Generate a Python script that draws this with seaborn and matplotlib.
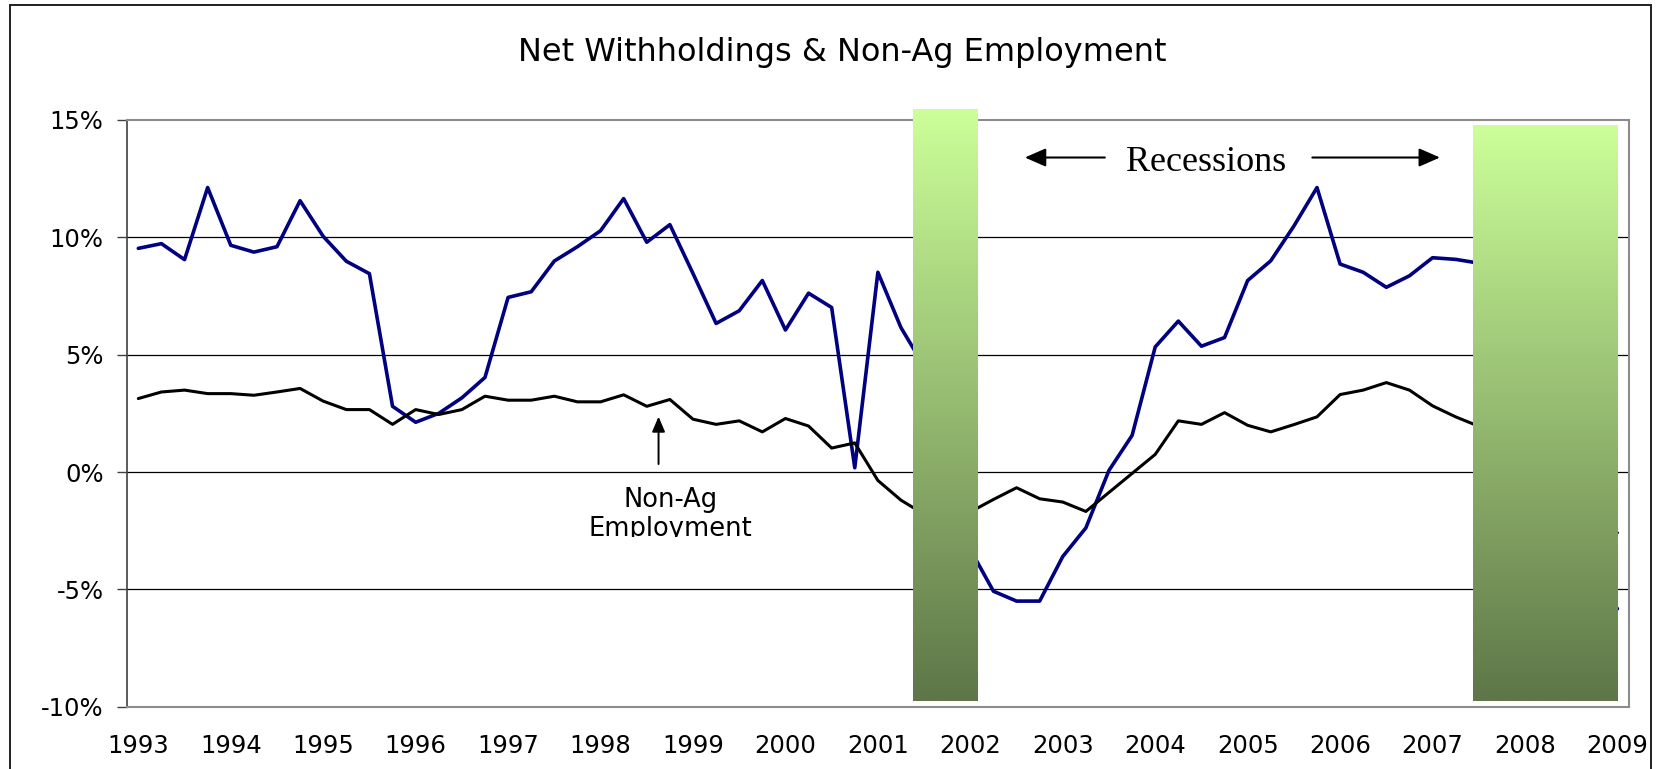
import numpy as np
import matplotlib
matplotlib.use('Agg')
import matplotlib.pyplot as plt
import seaborn as sns
from matplotlib.lines import Line2D
from matplotlib.transforms import Bbox, TransformedBbox

# quarterly series, 1993 Q1 .. 2009 Q1 (values in %)
years = ['1993', '1994', '1995', '1996', '1997', '1998', '1999', '2000', '2001',
         '2002', '2003', '2004', '2005', '2006', '2007', '2008', '2009']

withholdings = [9.53, 9.73, 9.05, 12.12, 9.66, 9.37, 9.60, 11.56,
                10.04, 8.98, 8.45, 2.80, 2.12, 2.50, 3.16, 4.03,
                7.44, 7.68, 8.99, 9.60, 10.28, 11.65, 9.79, 10.54,
                8.46, 6.33, 6.87, 8.16, 6.05, 7.62, 7.01, 0.18,
                8.51, 6.15, 4.50, 0.00, -3.30, -5.08, -5.50, -5.50,
                -3.60, -2.38, 0.07, 1.56, 5.33, 6.43, 5.36, 5.73,
                8.16, 9.00, 10.48, 12.12, 8.86, 8.51, 7.87, 8.36,
                9.13, 9.06, 8.90, 7.50, 5.00, 1.50, -2.00, -4.50,
                -5.83]

non_ag = [3.13, 3.41, 3.49, 3.34, 3.34, 3.27, 3.41, 3.56,
          3.02, 2.66, 2.66, 2.03, 2.66, 2.45, 2.66, 3.23,
          3.06, 3.06, 3.23, 2.99, 2.99, 3.29, 2.80, 3.09,
          2.25, 2.03, 2.18, 1.71, 2.28, 1.96, 1.02, 1.24,
          -0.36, -1.20, -1.80, -2.00, -1.70, -1.17, -0.67, -1.14,
          -1.28, -1.68, -0.87, -0.06, 0.75, 2.18, 2.03, 2.53,
          1.99, 1.71, 2.02, 2.35, 3.30, 3.49, 3.81, 3.49,
          2.82, 2.35, 1.95, 1.50, 0.80, -0.30, -1.30, -2.10,
          -2.59]

# recession bars (in quarter index units)
rec_start = [33.5, 57.75]
rec_end = [36.27, 64.0]
rec_top = [15.44, 14.75]
rec_bottom = -9.77

sns.set_theme(style='white')
plt.rcParams['font.family'] = ['DejaVu Sans']

quarter = np.arange(len(withholdings))

fig = plt.figure(figsize=(16.57, 7.69), dpi=100)
ax = fig.add_axes([0.0765, 0.0810, 0.9066, 0.7630])

for y in [-5, 0, 5, 10]:
    ax.axhline(y, color='black', lw=0.9, zorder=1)

sns.lineplot(x=quarter, y=withholdings, color='#000080', lw=2.6, ax=ax, zorder=3)
sns.lineplot(x=quarter, y=non_ag, color='black', lw=2.2, ax=ax, zorder=3)

# green gradient bars for recessions
top_c = np.array([204, 255, 153]) / 255
bot_c = np.array([94, 118, 72]) / 255
t = np.linspace(0, 1, 256)[:, None]
grad = (top_c * (1 - t) + bot_c * t)[:, None, :]
for x0, x1, y1 in zip(rec_start, rec_end, rec_top):
    ax.imshow(grad, extent=(x0, x1, rec_bottom, y1), aspect='auto',
              zorder=4, clip_on=False, interpolation='bilinear')

ax.set_xlim(-0.5, 64.5)
ax.set_ylim(-10, 15)
ax.set_xticks(range(0, 65, 4))
ax.set_xticklabels(years)
ax.set_yticks([-10, -5, 0, 5, 10, 15])
ax.set_yticklabels(['-10%', '-5%', '0%', '5%', '10%', '15%'])
ax.set_xlabel('')
ax.set_ylabel('')

for s in ['top', 'right', 'bottom']:
    ax.spines[s].set_color('#8c8c8c')
    ax.spines[s].set_linewidth(1.5)
ax.spines['left'].set_color('#404040')
ax.spines['left'].set_linewidth(1.2)

ax.tick_params(axis='y', direction='out', left=True, length=7.2, width=1,
               color='#404040', pad=9.5, labelsize=17.5, labelcolor='black')
ax.tick_params(axis='x', length=0, pad=20, labelsize=17.5, labelcolor='black')

fig.text(0.508, 0.9207, 'Net Withholdings & Non-Ag Employment', ha='center',
         va='baseline', fontsize=23, color='black')

# recessions label with arrows
ax.text(46.21, 12.81, 'Recessions', family=['Liberation Serif', 'DejaVu Serif'],
        fontsize=26, ha='center', va='baseline', color='black')
arrow_style = dict(arrowstyle='-|>,head_length=0.8,head_width=0.35', color='black',
                   lw=1.5, mutation_scale=16, shrinkA=0, shrinkB=0)
ax.annotate('', xy=(38.36, 13.40), xytext=(41.82, 13.40), arrowprops=arrow_style)
ax.annotate('', xy=(56.32, 13.40), xytext=(50.80, 13.40), arrowprops=arrow_style)

# non-ag employment callout (bottom of text is cut off in the original box)
ax.annotate('', xy=(22.51, 2.36), xytext=(22.51, 0.34),
            arrowprops=dict(arrowstyle='-|>,head_length=0.7,head_width=0.3',
                            color='black', lw=1.4, mutation_scale=13,
                            shrinkA=0, shrinkB=0))
label_box = TransformedBbox(Bbox([[15, -2.79], [31, 0]]), ax.transData)
for yy, s in [(-1.48, 'Non-Ag'), (-2.71, 'Employment')]:
    txt = ax.text(23.02, yy, s, fontsize=18.5, ha='center', va='baseline',
                  color='black')
    txt.set_clip_box(label_box)
    txt.set_clip_on(True)

# outer chart frame
border = dict(transform=fig.transFigure, color='#202020', lw=1.4)
fig.add_artist(Line2D([0.0062, 0.9964], [0.9941, 0.9941], **border))
fig.add_artist(Line2D([0.0062, 0.0062], [0.0, 0.9941], **border))
fig.add_artist(Line2D([0.9964, 0.9964], [0.0, 0.9941], **border))

fig.savefig('out.png', dpi=100)
